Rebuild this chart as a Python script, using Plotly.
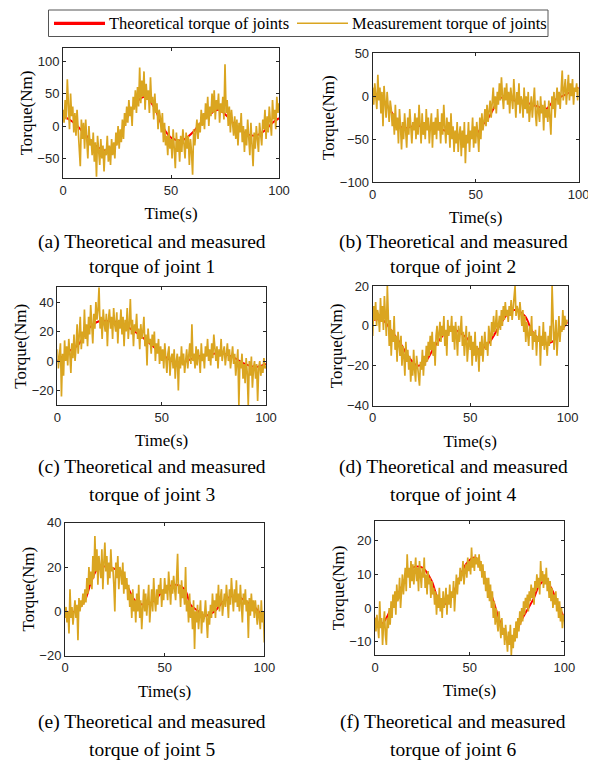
import plotly.graph_objects as go

# The page places the figure 8 px from the window's top-left corner,
# so the figure is sized to fill the rest of the 596x763 window.
OFF = 8
W, H = 596 - OFF, 763 - OFF

# ---------------- data ----------------
time_meas = [i * 0.5 for i in range(201)]  # 0 .. 100 s sample times

# Theoretical torque (anchor readings, t in s)
theo_t1 = [0, 5, 10, 15, 20, 23, 27, 30, 35, 38, 42, 46, 50, 55, 60, 64, 68, 72, 76, 80, 85, 89, 93, 97, 100]
theo_1 = [15, 5, -12, -30, -38, -35, -10, 15, 40, 45, 30, 0, -18, -22, -10, 6, 18, 25, 15, 0, -12, -15, -8, 5, 12]

theo_t2 = [0, 5, 10, 12, 15, 20, 25, 30, 35, 40, 45, 50, 53, 57, 62, 66, 70, 75, 80, 84, 88, 92, 96, 100]
theo_2 = [5, -5, -22, -32, -37, -35, -35, -38, -40, -47, -50, -46, -35, -22, -2, -3, -6, -8, -12, -15, -5, 0, 5, 10]

theo_t3 = [0, 5, 10, 15, 20, 25, 30, 35, 40, 45, 50, 55, 60, 65, 70, 75, 80, 85, 90, 95, 100]
theo_3 = [0, 6, 11, 22, 27, 27, 26, 22, 17, 11, 5, 0, -1, 2, 4, 5, 5, 2, -2, -4, -2]

theo_t4 = [0, 5, 10, 15, 18, 23, 27, 32, 38, 42, 47, 52, 55, 60, 65, 70, 73, 78, 82, 87, 92, 96, 100]
theo_4 = [3, 3, -3, -10, -15, -20, -18, -10, -3, -2, -5, -10, -12, -8, 0, 7, 8, 5, -3, -8, -8, -3, 2]

theo_t5 = [0, 5, 10, 13, 17, 22, 27, 32, 35, 40, 45, 50, 55, 60, 63, 67, 70, 75, 80, 85, 90, 95, 100]
theo_5 = [0, 0, 5, 13, 20, 20, 18, 10, 5, 3, 5, 10, 12, 10, 3, 0, -2, 0, 5, 7, 5, 2, -3]

theo_t6 = [0, 3, 6, 10, 13, 17, 20, 25, 30, 33, 36, 40, 44, 48, 52, 55, 58, 62, 66, 70, 73, 77, 80, 84, 87, 90, 93, 96, 100]
theo_6 = [-3, -5, -3, 2, 5, 10, 12, 12, 8, 3, 1, 3, 8, 13, 15, 14, 9, 3, -4, -9, -9, -4, -1, 3, 7, 8, 6, 2, -3]

# Measured torque (read every 0.5 s)
meas_1 = [
    25, 5, 40, 10, 72, 20, -5, 50, 15, 30,
    -10, 20, -15, 25, 0, -30, -62, 10, -20, 5,
    -35, 10, -25, -50, 0, -30, -20, -45, -10, -55,
    -25, -78, -15, -40, -60, -20, -50, -30, -70, -35,
    -45, -15, -55, -30, -60, -20, -45, -25, -50, -10,
    -30, 0, -35, -5, -25, 10, -20, 20, 0, 30,
    5, 40, 15, 30, 0, 45, 25, 55, 20, 60,
    30, 90, 35, 70, 45, 84, 25, 65, 40, 55,
    20, 75, 35, 45, 10, 50, 20, 35, -5, 25,
    15, -10, 20, -25, 5, -30, -15, -45, 0, -35,
    -20, -50, -5, -35, -65, -10, -40, -20, -55, -15,
    -40, -5, -30, -50, -10, -35, -15, -60, -20, -40,
    -75, -5, -30, -15, 10, -20, 5, -10, 25, 0,
    20, -5, 35, 10, 45, 0, 30, 15, 50, 20,
    55, 10, 40, 25, 50, 5, 35, 20, 45, 10,
    95, 20, 40, 0, 30, -10, 25, 5, -15, 15,
    -20, 10, -30, 5, -10, 20, -25, 0, -40, -5,
    -30, 10, -20, -45, 5, -25, -62, -10, -35, 0,
    -20, -40, 5, -15, -30, 10, -5, 25, -20, 15,
    -10, 30, 5, -15, 40, 10, 25, -5, 45, 20,
    35]

meas_2 = [
    10, -10, 15, 0, -15, 25, -5, 10, -20, 5,
    -35, 12, -10, -25, 5, -20, -30, -5, -15, -35,
    -20, -45, -10, -40, -25, -55, -15, -35, -62, -30,
    -50, -20, -40, -60, -25, -45, -15, -35, -55, -30,
    -40, -20, -50, -25, -45, -10, -35, -55, -20, -45,
    -30, -50, -15, -40, -25, -55, -35, -20, -60, -30,
    -45, -25, -50, -15, -40, -30, -55, -20, -45, -10,
    -35, -55, -25, -45, -30, -60, -20, -50, -35, -65,
    -40, -55, -30, -65, -45, -35, -70, -40, -60, -30,
    -78, -45, -55, -30, -65, -40, -50, -25, -60, -35,
    -55, -30, -45, -65, -25, -50, -20, -40, -30, -15,
    -35, -10, -30, -20, -5, -25, -10, 10, -15, 0,
    -20, 5, -10, 15, -5, 22, 0, -15, 10, -5,
    15, -10, 5, -20, 10, 0, -15, 20, -5, -25,
    5, -10, 15, -20, 0, -5, -25, 10, -15, 0,
    -20, 5, -30, -10, 0, -25, -5, 10, -20, -35,
    -5, -15, -30, 0, -20, -10, -40, -5, -25, -15,
    -30, -5, -20, -45, 0, -15, 5, -25, -5, 10,
    -10, 5, -15, 15, 30, -5, 10, 20, -10, 5,
    25, -5, 15, 0, 20, -10, 10, 5, 15, -5,
    10]

meas_3 = [
    8, -5, 3, 12, -24, 5, -10, 14, 0, 10,
    -3, 15, 5, -8, 12, 2, 18, 0, 10, 25,
    5, 15, 30, 8, 20, 12, 35, 15, 25, 10,
    30, 18, 38, 25, 12, 32, 22, 40, 28, 35,
    50, 22, 30, 15, 35, 25, 20, 32, 10, 28,
    35, 22, 30, 15, 36, 25, 20, 33, 12, 28,
    22, 35, 18, 30, 10, 28, 20, 36, 15, 25,
    42, 18, 28, 10, 25, 20, 32, 15, 22, 8,
    25, 15, 20, 30, 10, 18, -3, 22, 12, 15,
    5, 18, 10, 20, 0, 12, 5, 15, -2, 10,
    0, 8, -5, 12, 2, -8, 5, 10, -10, 2,
    5, -5, 8, -12, 0, 5, -20, 3, -5, 10,
    -3, 5, -8, 2, 8, -5, 3, 12, -2, 25,
    0, 5, -5, 10, -3, 8, 2, -8, 12, 0,
    5, -5, 10, 3, 15, 0, 8, -3, 12, 2,
    18, 5, 0, 10, -5, 8, 3, 15, 0, 6,
    10, -3, 5, 12, 0, 8, -5, 3, 10, -2,
    5, -10, 3, 8, -30, 0, -5, 5, -12, -2,
    -15, 2, -8, -30, 0, -10, 3, -18, -5, 0,
    -12, -2, -27, -5, 0, -10, -3, -8, 2, -5,
    -3]

meas_4 = [
    -5, 10, 3, 12, 0, 8, 5, -3, 14, 2,
    10, -2, 15, 5, -5, 20, 0, -10, 3, -15,
    -2, -8, 5, -12, -5, -18, -3, -10, -15, -5,
    -20, -10, -15, -25, -8, -18, -12, -22, -15, -28,
    -18, -25, -12, -22, -28, -15, -20, -25, -30, -18,
    -22, -12, -25, -15, -20, -10, -18, -8, -15, -5,
    -12, -3, -15, -8, -20, -5, 0, -10, -3, 2,
    -8, 0, -5, 5, -10, -2, -15, 3, -5, 0,
    -3, 5, -8, 0, -12, 2, -5, -15, 0, -8,
    -2, 5, -10, -3, -15, -5, 0, -18, -8, -3,
    -12, -5, -20, -8, -15, -3, -18, -10, -12, -23,
    -8, -15, -5, -18, -10, -3, -12, -8, -15, 0,
    -5, -10, 2, -5, 5, -3, 0, 8, -5, 3,
    5, -2, 8, 0, 10, 3, 12, 5, 8, 2,
    10, 5, 13, 3, 8, 12, 20, 5, 10, 8,
    3, 12, 5, 0, 8, -3, 5, -8, 2, -5,
    -10, 0, -5, 5, -12, -3, -8, -2, -15, -5,
    -8, 0, -20, -5, -10, 2, -12, -3, -8, -15,
    -5, -10, 0, -8, 20, -3, -12, -5, 3, -15,
    -5, 5, -8, 0, -3, 8, -2, 5, 0, 3,
    2]

meas_5 = [
    -3, 2, -5, 0, -10, 10, -3, 2, -6, 0,
    5, -3, 3, -13, 6, 0, 5, 2, 8, 3,
    10, 4, 15, 8, 20, 12, 18, 10, 25, 15,
    34, 18, 28, 12, 25, 20, 15, 28, 10, 22,
    31, 18, 25, 12, 22, 15, 28, 18, 20, 12,
    0, 22, 15, 25, 10, 20, 18, 12, 22, 8,
    18, 10, 15, 5, 12, 2, 8, -3, 10, 0,
    5, -5, 8, 0, 12, -3, 5, -8, 2, 10,
    0, 8, -2, 5, 12, -5, 3, 10, 0, 15,
    5, 0, 10, 3, 12, 8, 15, 2, 10, 5,
    15, 8, 12, 5, 18, 10, 3, 14, 8, 16,
    10, 5, 15, 26, 8, 12, 2, 14, 6, 10,
    3, 20, 0, 5, -5, 8, -3, 2, -8, 5,
    -17, 0, -5, 3, -8, -2, 5, -10, 0, -5,
    -2, 5, -5, -12, 0, -6, 3, -3, 8, 0,
    5, -3, 8, 2, 12, 0, 6, 10, -2, 5,
    8, 2, 12, 5, -3, 10, 3, 15, 6, 0,
    10, 4, 14, 2, 8, 0, 12, 5, -5, 8,
    3, 10, 0, 5, -12, 6, -2, 8, 0, 5,
    -3, 5, 0, -6, 3, -2, -8, 5, -5, 0,
    -14]

meas_6 = [
    -3, -7, -2, -5, -9, 2, -6, -3, -11, -5,
    -1, -8, -11, -3, -6, 0, -5, 2, -3, 4,
    0, 5, -2, 7, 2, 3, 9, 0, 6, 10,
    4, 8, 12, 5, 16, 9, 12, 6, 14, 8,
    13, 7, 11, 15, 8, 12, 5, 14, 10, 6,
    12, 9, 15, 6, 10, 4, 11, 7, 9, 3,
    8, 4, 6, 1, 5, -2, 4, 0, 6, -1,
    3, -3, 5, 0, 2, 6, -2, 4, 1, 7,
    0, 5, 3, 8, -1, 6, 10, 4, 9, 7,
    12, 8, 10, 14, 7, 11, 13, 9, 15, 11,
    14, 10, 18, 12, 15, 11, 16, 13, 15, 12,
    16, 11, 14, 9, 13, 7, 11, 5, 9, 3,
    9, 2, 7, 0, 5, -3, 2, -5, 0, -4,
    -7, -1, -5, -9, -3, -8, -6, -11, -5, -9,
    -13, -7, -11, -5, -14, -8, -12, -6, -10, -4,
    -9, -3, -7, -1, -5, 0, -4, 2, -2, 3,
    0, 4, -1, 5, 2, 7, 3, 6, 1, 8,
    5, 10, 6, 9, 4, 14, 8, 11, 6, 10,
    7, 12, 5, 9, 3, 8, 2, 6, 0, 4,
    1, 5, -1, 3, -3, 2, -4, 0, -6, -2,
    -4]

y_ranges = [[-80, 120], [-100, 50], [-30, 50], [-40, 20], [-20, 40], [-14, 26]]
y_ticks = [[-50, 0, 50, 100], [-100, -50, 0, 50], [-20, 0, 20, 40],
           [-40, -20, 0, 20], [-20, 0, 20, 40], [-10, 0, 10, 20]]
x_ticks = [0, 50, 100]

legend_names = ["Theoretical torque of joints", "Measurement torque of joints"]
captions = [
    ("(a) Theoretical and measured", "torque of joint 1"),
    ("(b) Theoretical and measured", "torque of joint 2"),
    ("(c) Theoretical and measured", "torque of joint 3"),
    ("(d) Theoretical and measured", "torque of joint 4"),
    ("(e) Theoretical and measured", "torque of joint 5"),
    ("(f) Theoretical and measured", "torque of joint 6"),
]

theo_t = [theo_t1, theo_t2, theo_t3, theo_t4, theo_t5, theo_t6]
theo = [theo_1, theo_2, theo_3, theo_4, theo_5, theo_6]
meas = [meas_1, meas_2, meas_3, meas_4, meas_5, meas_6]

# ---------------- layout geometry (window pixels) ----------------
boxes = [  # left, right, top, bottom
    (63, 279, 48, 178),
    (372.7, 578.7, 53.3, 182),
    (57.3, 266, 287.3, 405.3),
    (372.7, 567.7, 286, 405.7),
    (65, 264.3, 522.7, 655.7),
    (375, 564.3, 520.7, 655),
]
cap_x = [151.5, 453, 151.5, 453, 151.5, 453]
cap_y = [(242, 267), (242, 267), (467, 494), (467, 494), (722, 749), (722, 749)]


def px(x):
    return (x - OFF) / W


def py(y):
    return 1 - (y - OFF) / H


SERIF = "Liberation Serif, Times New Roman, serif"
SANS = "Liberation Sans, Arial, sans-serif"
AX = "#262626"
GOLD = "#DAA520"

fig = go.Figure()
layout = dict(
    width=W, height=H, autosize=False,
    margin=dict(l=0, r=0, t=0, b=0),
    paper_bgcolor="white", plot_bgcolor="white",
    showlegend=False,
)

for i in range(6):
    k = "" if i == 0 else str(i + 1)
    xa, ya = "x" + k, "y" + k
    fig.add_trace(go.Scatter(x=theo_t[i], y=theo[i], mode="lines", name=legend_names[0],
                             line=dict(color="#FF0000", width=2, shape="spline", smoothing=1.0),
                             xaxis=xa, yaxis=ya, showlegend=False))
    fig.add_trace(go.Scatter(x=time_meas, y=meas[i], mode="lines", name=legend_names[1],
                             line=dict(color=GOLD, width=1.7),
                             xaxis=xa, yaxis=ya, showlegend=False))
    l, r, t, b = boxes[i]
    common = dict(showline=True, linecolor=AX, linewidth=1, mirror="ticks",
                  ticks="inside", ticklen=3, tickcolor=AX, tickwidth=1,
                  tickfont=dict(family=SANS, size=13, color=AX),
                  showgrid=False, zeroline=False, automargin=False, fixedrange=True)
    layout["xaxis" + k] = dict(common, domain=[px(l), px(r)], anchor=ya,
                               range=[0, 100], tickvals=x_ticks,
                               title=dict(text="Time(s)", standoff=10,
                                          font=dict(family=SERIF, size=17, color="black")))
    layout["yaxis" + k] = dict(common, domain=[py(b), py(t)], anchor=xa,
                               range=y_ranges[i], tickvals=y_ticks[i],
                               title=dict(text="Torque(Nm)", standoff=0,
                                          font=dict(family=SERIF, size=17, color="black")))

annotations = []
for i in range(6):
    for line_txt, yy in zip(captions[i], cap_y[i]):
        annotations.append(dict(text=line_txt, x=px(cap_x[i]), y=py(yy),
                                xref="paper", yref="paper", xanchor="center", yanchor="middle",
                                showarrow=False, font=dict(family=SERIF, size=19.5, color="black")))

# legend (drawn manually to match the boxed horizontal legend)
leg_y = py(23.3)
shapes = [
    dict(type="rect", xref="paper", yref="paper", x0=px(48.5), x1=px(548),
         y0=py(36.5), y1=py(10), line=dict(color="#555555", width=1), fillcolor="white"),
    dict(type="line", xref="paper", yref="paper", x0=px(54), x1=px(105), y0=leg_y, y1=leg_y,
         line=dict(color="#FF0000", width=3.2)),
    dict(type="line", xref="paper", yref="paper", x0=px(297), x1=px(348), y0=leg_y, y1=leg_y,
         line=dict(color=GOLD, width=1.6)),
]
annotations.append(dict(text=legend_names[0], x=px(107), y=leg_y, xref="paper", yref="paper",
                        xanchor="left", yanchor="middle", showarrow=False,
                        font=dict(family=SERIF, size=16.5, color="black")))
annotations.append(dict(text=legend_names[1], x=px(350), y=leg_y, xref="paper", yref="paper",
                        xanchor="left", yanchor="middle", showarrow=False,
                        font=dict(family=SERIF, size=16.5, color="black")))

layout["annotations"] = annotations
layout["shapes"] = shapes
fig.update_layout(**layout)
fig.write_html("out.html")
